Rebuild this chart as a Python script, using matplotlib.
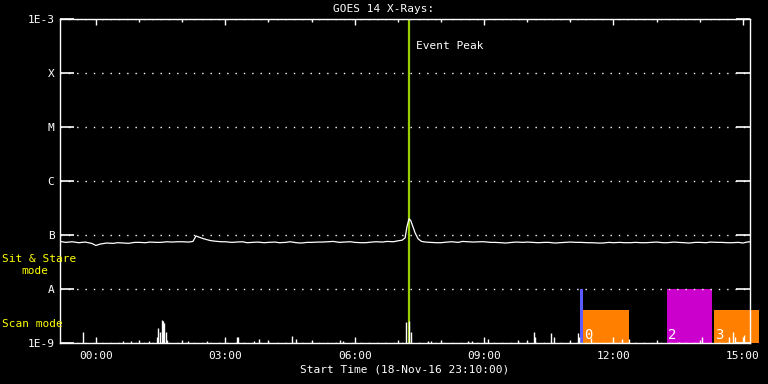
import numpy as np
import matplotlib
matplotlib.use("Agg")
import matplotlib.pyplot as plt
from matplotlib.ticker import FixedLocator, NullLocator

# hours after 00:00 on 19-Nov-16 (plot starts 18-Nov-16 23:10)
long_t = [-0.83, -0.7, -0.55, -0.4, -0.25, -0.1, 0.0, 0.1, 0.25, 0.4, 0.5, 0.65, 0.75, 0.9,
          1.0, 1.15, 1.25, 1.4, 1.5, 1.65, 1.75, 1.9, 2.0, 2.15, 2.25, 2.32, 2.38, 2.5, 2.65,
          2.75, 2.9, 3.0, 3.15, 3.25, 3.4, 3.5, 3.65, 3.75, 3.9, 4.0, 4.15, 4.25, 4.4, 4.5,
          4.65, 4.75, 4.9, 5.0, 5.15, 5.25, 5.4, 5.5, 5.65, 5.75, 5.9, 6.0, 6.15, 6.25, 6.4,
          6.5, 6.65, 6.75, 6.9, 7.0, 7.1, 7.17, 7.21, 7.26, 7.3, 7.34, 7.4, 7.47, 7.55, 7.65,
          7.75, 7.9, 8.0, 8.15, 8.25, 8.4, 8.5, 8.65, 8.75, 8.9, 9.0, 9.15, 9.25, 9.4, 9.5,
          9.65, 9.75, 9.9, 10.0, 10.15, 10.25, 10.4, 10.5, 10.65, 10.75, 10.9, 11.0, 11.15,
          11.25, 11.4, 11.5, 11.65, 11.75, 11.9, 12.0, 12.15, 12.25, 12.4, 12.5, 12.65, 12.75,
          12.9, 13.0, 13.15, 13.25, 13.4, 13.5, 13.65, 13.75, 13.9, 14.0, 14.15, 14.25, 14.4,
          14.5, 14.65, 14.75, 14.9, 15.0, 15.1, 15.17]
# 1-8 A flux, units of 1e-8 W/m^2
long_f = [7.6, 7.3, 7.5, 7.2, 7.4, 7.0, 6.4, 6.8, 7.1, 7.0, 7.2, 7.1, 7.0, 7.3,
          7.3, 7.2, 7.4, 7.3, 7.3, 7.5, 7.4, 7.5, 7.5, 7.4, 7.6, 9.6, 9.2, 8.5, 7.9,
          7.7, 7.5, 7.5, 7.3, 7.4, 7.5, 7.2, 7.3, 7.4, 7.2, 7.3, 7.4, 7.2, 7.3, 7.5,
          7.2, 7.1, 7.3, 7.3, 7.4, 7.4, 7.5, 7.6, 7.3, 7.4, 7.5, 7.3, 7.2, 7.2, 7.4,
          7.5, 7.4, 7.6, 7.5, 7.8, 8.0, 8.9, 14.0, 20.0, 18.5, 15.0, 11.0, 8.5, 7.6, 7.4,
          7.3, 7.2, 7.2, 7.4, 7.5, 7.3, 7.6, 7.5, 7.4, 7.5, 7.5, 7.3, 7.3, 7.2, 7.1,
          7.3, 7.4, 7.3, 7.4, 7.3, 7.2, 7.3, 7.3, 7.1, 7.2, 7.3, 7.4, 7.3,
          7.3, 7.2, 7.2, 7.1, 7.1, 7.3, 7.2, 7.3, 7.2, 7.2, 7.3, 7.2, 7.2,
          7.3, 7.4, 7.2, 7.2, 7.4, 7.3, 7.2, 7.1, 7.3, 7.3, 7.2, 7.4, 7.3,
          7.3, 7.2, 7.2, 7.3, 7.1, 7.4, 7.5]

# 0.5-4 A spikes above 1e-9 (time in hours, flux in units of 1e-9)
spike_t = [-0.30, 0.63, 0.81, 1.23, 1.41, 1.44, 1.48, 1.53, 1.55, 1.58, 1.62, 1.64,
           2.13, 2.57, 3.27, 3.29, 3.66, 3.78, 4.54, 4.63, 5.65, 5.74,
           7.20, 7.27, 7.30, 7.69, 7.78, 8.62, 8.71, 9.08, 9.78, 10.15, 10.17,
           10.56, 10.63, 11.17, 11.21, 11.47, 12.21, 12.37, 13.53, 14.06, 14.69,
           14.78, 14.83, 15.03]
spike_f = [1.6, 1.1, 1.1, 1.1, 1.3, 1.9, 1.6, 2.7, 2.6, 2.3, 1.6, 1.15,
           1.1, 1.08, 1.29, 1.29, 1.1, 1.2, 1.35, 1.2, 1.15, 1.1,
           2.5, 2.6, 1.6, 1.1, 1.1, 1.1, 1.1, 1.2, 1.14, 1.6, 1.29,
           1.5, 1.29, 1.5, 1.29, 1.25, 1.2, 1.2, 1.05, 1.3, 1.3,
           1.6, 1.3, 1.4]

# observation rasters: start, end (hours), top flux, colour, label
obs_start = [11.23, 11.30, 13.25, 14.34]
obs_end = [11.30, 12.37, 14.29, 15.38]
obs_top = [1e-8, 4.1e-9, 1e-8, 4.1e-9]
obs_color = ["#5a5aff", "#ff8000", "#cc00cc", "#ff8000"]
obs_label = ["", "0", "2", "3"]

event_peak = 7.25
x_ticks = [0, 3, 6, 9, 12, 15]
x_labels = ["00:00", "03:00", "06:00", "09:00", "12:00", "15:00"]
y_ticks = [1e-9, 1e-8, 1e-7, 1e-6, 1e-5, 1e-4, 1e-3]
y_labels = ["1E-9", "A", "B", "C", "M", "X", "1E-3"]

plt.rcParams['font.family'] = ['DejaVu Sans Mono']
fig = plt.figure(figsize=(7.68, 3.84), dpi=100, facecolor="black")
ax = fig.add_axes([60 / 768, 41 / 384, 690 / 768, 324 / 384], facecolor="black")
ax.set_yscale("log")
ax.set_xlim(-50 / 60, 15 + 10 / 60)
ax.set_ylim(1e-9, 1e-3)

for s, e, top, c in zip(obs_start, obs_end, obs_top, obs_color):
    ax.fill_between([s, e], 1e-9, top, color=c, lw=0, clip_on=False, zorder=1)
for s, lab in zip(obs_start, obs_label):
    if lab:
        ax.text(s + 0.02, 1.05e-9, lab, color="white", fontsize=10,
                ha="left", va="bottom", zorder=4)

ax.axvline(event_peak, color="#9acd00", lw=1.6, zorder=2)
ax.text(event_peak + 0.18, 3.2e-4, "Event Peak", color="white", fontsize=8,
        ha="left", va="center")

ax.plot(long_t, np.array(long_f) * 1e-8, color="white", lw=0.9, zorder=3)
ax.vlines(spike_t, 1e-9, np.array(spike_f) * 1e-9, color="white", lw=1.0, zorder=3)

ax.grid(axis="y", color="white", linestyle=(0, (1, 5)), lw=1.0)
for sp in ax.spines.values():
    sp.set_color("white")
    sp.set_linewidth(1.0)

ax.xaxis.set_major_locator(FixedLocator(x_ticks))
ax.xaxis.set_minor_locator(FixedLocator(range(0, 16)))
ax.set_xticklabels(x_labels)
ax.yaxis.set_major_locator(FixedLocator(y_ticks))
ax.yaxis.set_minor_locator(NullLocator())
ax.set_yticklabels(y_labels)
ax.tick_params(axis="x", which="major", direction="in", top=True, bottom=True,
               length=4.5, width=1, color="white", labelcolor="white",
               labelsize=8, pad=6)
ax.tick_params(axis="x", which="minor", direction="in", top=True, bottom=True,
               length=2.2, width=1, color="white")
ax.tick_params(axis="y", which="major", direction="in", left=True, right=True,
               length=10, width=1.2, color="white", labelcolor="white",
               labelsize=8, pad=4)
ax.set_xlabel("Start Time (18-Nov-16 23:10:00)", color="white", fontsize=8, labelpad=2)

fig.text(0.5, 1 - 9 / 384, "GOES 14 X-Rays:", color="white", fontsize=8,
         ha="center", va="center")
fig.text(2 / 768, 1 - 259 / 384, "Sit & Stare", color="yellow", fontsize=8,
         ha="left", va="center")
fig.text(35 / 768, 1 - 271 / 384, "mode", color="yellow", fontsize=8,
         ha="center", va="center")
fig.text(2 / 768, 1 - 324 / 384, "Scan mode", color="yellow", fontsize=8,
         ha="left", va="center")

fig.savefig("out.png", dpi=100, facecolor="black")
